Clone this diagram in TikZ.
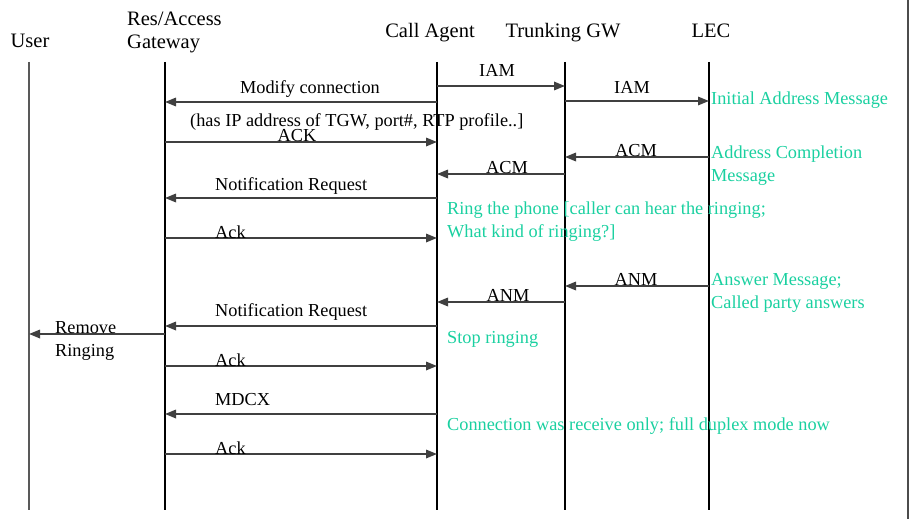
\documentclass[tikz,border=0pt]{standalone}
\usepackage{fontspec}
\setmainfont{Liberation Serif}
\usetikzlibrary{arrows.meta, positioning}
\definecolor{notegreen}{RGB}{26,208,160}

\begin{document}
\begin{tikzpicture}[x=1pt, y=-1pt, >={Triangle[length=11pt,width=8.5pt]},
    font=\fontsize{18.3}{22.5}\selectfont,
    head/.style={inner sep=0pt, anchor=base, font=\fontsize{20.5}{24}\selectfont},
    lbl/.style={inner sep=0pt, anchor=base},
    note/.style={inner sep=0pt, anchor=base west, text=notegreen, align=left},
    life/.style={line width=1.2pt},
    msg/.style={->, line width=1.7pt, draw=black!75}]
    \useasboundingbox (0,0) rectangle (911,519);

    % headers (base anchor of a two-line node sits on its last line)
    \node[head] (user) at (30,48) {User};
    \node[head, anchor=base west, align=left] (rag) at (127,49) {Res/Access\\Gateway};
    \node[head] (ca) at (430,38) {Call Agent};
    \node[head] (tgw) at (563,38) {Trunking GW};
    \node[head] (lec) at (711,38) {LEC};

    % lifelines
    \coordinate (user-t) at (29,62);
    \coordinate (user-b) at (29,510);
    \draw[life, line width=2pt, black!65] (user-t) -- (user-b);
    \foreach \n/\x in {rag/165, ca/437, tgw/565, lec/709} {
        \coordinate (\n-t) at (\x,62);
        \coordinate (\n-b) at (\x,510);
        \draw[life] (\n-t) -- (\n-b);
    }
    \coordinate (edge-t) at (908,0);
    \coordinate (edge-b) at (908,519);
    \draw[line width=1.5pt, black!70] (edge-t) -- (edge-b);

    % messages
    \draw[msg] (ca-t |- 0,86) -- (tgw-t |- 0,86);
    \node[lbl] (iam1) at (497,77) {IAM};
    \draw[msg] (ca-t |- 0,102) -- (rag-t |- 0,102);
    \node[lbl] (mdcx1) at (310,93) {Modify connection};
    \draw[msg] (tgw-t |- 0,101) -- (lec-t |- 0,101);
    \node[lbl] (iam2) at (632,93) {IAM};
    \node[lbl, anchor=base west] (info) at (190,126) {(has IP address of TGW, port\#, RTP profile..]};
    \draw[msg] (rag-t |- 0,142) -- (ca-t |- 0,142);
    \node[lbl] (ack1) at (297,142) {ACK};
    \draw[msg] (lec-t |- 0,157) -- (tgw-t |- 0,157);
    \node[lbl] (acm1) at (636,157) {ACM};
    \draw[msg] (tgw-t |- 0,174) -- (ca-t |- 0,174);
    \node[lbl] (acm2) at (507,173) {ACM};
    \draw[msg] (ca-t |- 0,198) -- (rag-t |- 0,198);
    \node[lbl, anchor=base west] (rqnt1) at (215,190) {Notification Request};
    \draw[msg] (rag-t |- 0,238) -- (ca-t |- 0,238);
    \node[lbl, anchor=base west] (ack2) at (215,238) {Ack};
    \draw[msg] (lec-t |- 0,286) -- (tgw-t |- 0,286);
    \node[lbl] (anm1) at (636,285) {ANM};
    \draw[msg] (tgw-t |- 0,302) -- (ca-t |- 0,302);
    \node[lbl] (anm2) at (508,301) {ANM};
    \draw[msg] (ca-t |- 0,326) -- (rag-t |- 0,326);
    \node[lbl, anchor=base west] (rqnt2) at (215,316) {Notification Request};
    \draw[msg] (rag-t |- 0,334) -- (user-t |- 0,334);
    \node[lbl, anchor=base west, align=left] (ring) at (55,356) {Remove\\Ringing};
    \draw[msg] (rag-t |- 0,366) -- (ca-t |- 0,366);
    \node[lbl, anchor=base west] (ack3) at (215,366) {Ack};
    \draw[msg] (ca-t |- 0,414) -- (rag-t |- 0,414);
    \node[lbl, anchor=base west] (mdcx2) at (215,405) {MDCX};
    \draw[msg] (rag-t |- 0,454) -- (ca-t |- 0,454);
    \node[lbl, anchor=base west] (ack4) at (215,454) {Ack};

    % notes
    \node[note] (n-iam) at (711,105) {Initial Address Message};
    \node[note] (n-acm) at (711,181) {Address Completion\\Message};
    \node[note] (n-ring) at (447,237) {Ring the phone [caller can hear the ringing;\\What kind of ringing?]};
    \node[note] (n-anm) at (711,308) {Answer Message;\\Called party answers};
    \node[note] (n-stop) at (447,343) {Stop ringing};
    \node[note] (n-dup) at (447,430) {Connection was receive only; full duplex mode now};
\end{tikzpicture}
\end{document}
